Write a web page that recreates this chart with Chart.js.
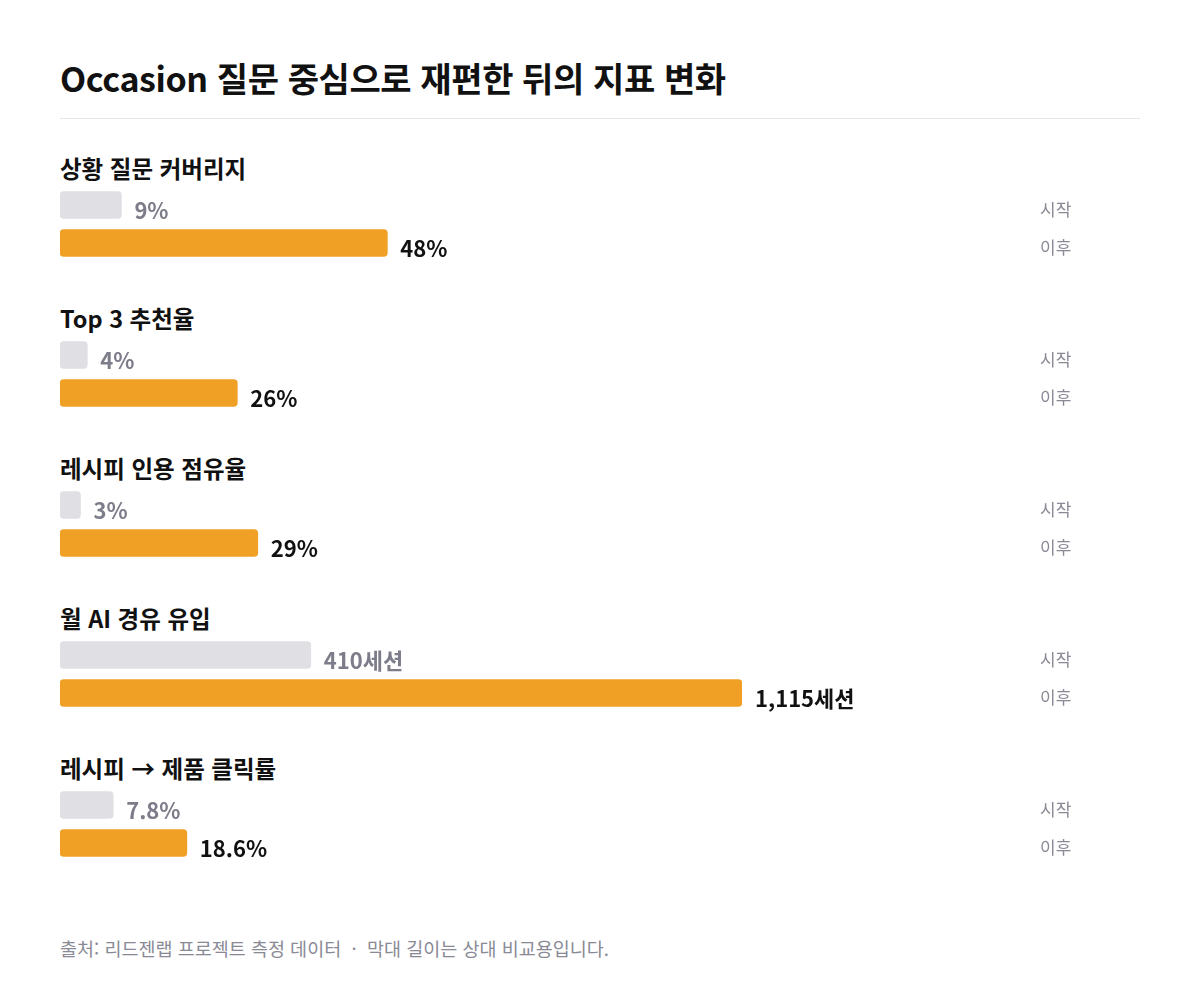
<!DOCTYPE html>
<html lang="ko">
<head>
<meta charset="utf-8">
<title>Occasion 질문 중심으로 재편한 뒤의 지표 변화</title>
<script src="https://cdn.jsdelivr.net/npm/chart.js@4.4.1/dist/chart.umd.min.js"></script>
<style>
  body { margin: 0; background: #fff; font-family: "Noto Sans CJK KR", "Noto Sans", sans-serif; }
  #page { position: relative; width: 1200px; height: 990px; overflow: hidden; }
  h1 { position: absolute; left: 60px; top: 56px; margin: 0; font-size: 34px; line-height: 44px; font-weight: 700; color: #111; letter-spacing: -0.4px; }
  .rule { position: absolute; left: 60px; top: 118px; width: 1080px; height: 1px; background: #e6e6e8; }
  .group { position: absolute; left: 60px; width: 1080px; }
  .group h2 { margin: 0; font-size: 23.5px; line-height: 30px; height: 30px; font-weight: 700; color: #111; position: relative; top: -2px; }
  .group .box { position: relative; width: 1080px; height: 76px; margin-top: 1px; }
  .note { position: absolute; left: 60px; top: 936px; font-size: 18.5px; line-height: 24px; color: #8a8a96; }
</style>
</head>
<body>
<div id="page">
  <h1>Occasion 질문 중심으로 재편한 뒤의 지표 변화</h1>
  <div class="rule"></div>
  <div id="groups"></div>
  <div class="note">출처: 리드젠랩 프로젝트 측정 데이터 &nbsp;·&nbsp; 막대 길이는 상대 비교용입니다.</div>
</div>
<script>
// ── Data ──
const metrics     = ["상황 질문 커버리지", "Top 3 추천율", "레시피 인용 점유율", "월 AI 경유 유입", "레시피 → 제품 클릭률"];
const startValues = [9, 4, 3, 410, 7.8];
const afterValues = [48, 26, 29, 1115, 18.6];
const units       = ["%", "%", "%", "세션", "%"];
const scaleMax    = [100, 100, 100, 1115, 100];
const rowLabels   = ["시작", "이후"];

const FONT = '"Noto Sans CJK KR", "Noto Sans", sans-serif';
const barColors = ["#dfdfe4", "#f0a024"];

function fmt(v, unit) {
    return v.toLocaleString("en-US") + unit;
}

// ── Value labels and row labels ──
const labelPlugin = {
    id: "labels",
    afterDatasetsDraw(chart) {
        const ctx = chart.ctx;
        const unit = chart.options.plugins.labels.unit;
        const meta = chart.getDatasetMeta(0);
        ctx.save();
        ctx.textBaseline = "middle";
        meta.data.forEach((bar, j) => {
            const v = chart.data.datasets[0].data[j];
            ctx.font = "700 22px " + FONT;
            ctx.fillStyle = j === 0 ? "#7c7c8a" : "#111";
            ctx.textAlign = "left";
            ctx.fillText(fmt(v, unit), bar.x + 13, bar.y + 6);

            ctx.font = "400 17px " + FONT;
            ctx.fillStyle = "#8a8a96";
            ctx.fillText(chart.data.labels[j], 980, bar.y + 5);
        });
        ctx.restore();
    }
};

const wrap = document.getElementById("groups");

metrics.forEach((name, i) => {
    const g = document.createElement("div");
    g.className = "group";
    g.style.top = (155 + i * 150) + "px";
    g.innerHTML = "<h2></h2><div class='box'><canvas></canvas></div>";
    g.querySelector("h2").textContent = name;
    wrap.appendChild(g);

    new Chart(g.querySelector("canvas"), {
        type: "bar",
        data: {
            labels: rowLabels,
            datasets: [{
                data: [startValues[i], afterValues[i]],
                backgroundColor: barColors,
                borderRadius: 4,
                borderSkipped: false,
                barThickness: 27
            }]
        },
        options: {
            indexAxis: "y",
            responsive: true,
            maintainAspectRatio: false,
            animation: false,
            layout: { padding: { left: 0, right: 398, top: 0, bottom: 0 } },
            scales: {
                x: { display: false, min: 0, max: scaleMax[i] },
                y: { display: false }
            },
            plugins: {
                legend: { display: false },
                tooltip: { enabled: false },
                labels: { unit: units[i] }
            }
        },
        plugins: [labelPlugin]
    });
});
</script>
</body>
</html>
